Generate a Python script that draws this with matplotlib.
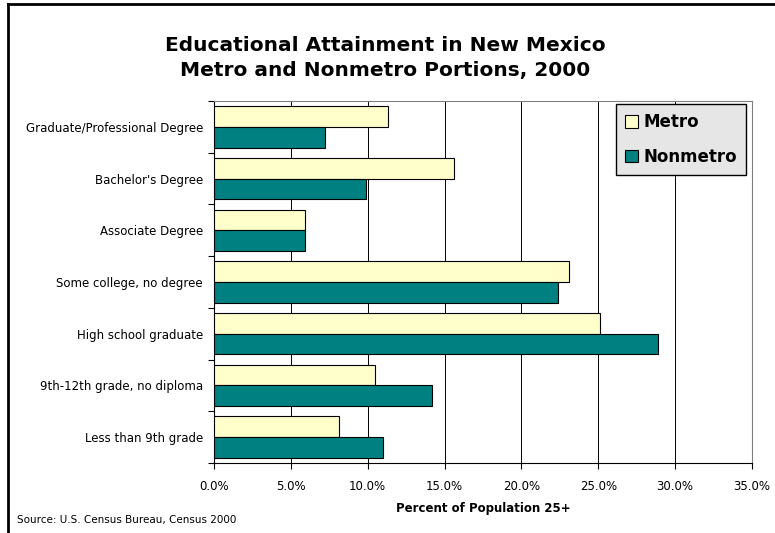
import matplotlib.pyplot as plt
import numpy as np
from matplotlib.lines import Line2D
from matplotlib.ticker import FuncFormatter

categories = ["Graduate/Professional Degree", "Bachelor's Degree", "Associate Degree",
              "Some college, no degree", "High school graduate",
              "9th-12th grade, no diploma", "Less than 9th grade"]
metro = [11.3, 15.6, 5.9, 23.1, 25.1, 10.5, 8.1]
nonmetro = [7.2, 9.9, 5.9, 22.4, 28.9, 14.2, 11.0]

fig = plt.figure(figsize=(7.75, 5.33), dpi=100)
ax = fig.add_axes([214 / 775, 1 - 463 / 533, (752 - 214) / 775, (463 - 101) / 533])

y = np.arange(len(categories))
h = 0.4
ax.barh(y - h / 2, metro, height=h, color="#FFFFCC", edgecolor="black", linewidth=0.8,
        label="Metro", zorder=3)
ax.barh(y + h / 2, nonmetro, height=h, color="#008080", edgecolor="black", linewidth=0.8,
        label="Nonmetro", zorder=3)

ax.set_ylim(len(categories) - 0.5, -0.5)
ax.set_xlim(0, 35)
ax.set_xticks(np.arange(0, 36, 5))
ax.xaxis.set_major_formatter(FuncFormatter(lambda v, p: f"{v:.1f}%"))
ax.grid(axis="x", color="black", linewidth=0.7, zorder=0)

ax.set_yticks(np.arange(-0.5, len(categories), 1))
ax.set_yticklabels([])
ax.set_yticks(y, minor=True)
ax.set_yticklabels(categories, minor=True, fontsize=8.5)
ax.tick_params(axis="y", which="minor", length=0, pad=8)
ax.tick_params(axis="y", which="major", length=4, direction="out")
ax.tick_params(axis="x", length=4, labelsize=8.5, pad=8)

for s in ["top", "right"]:
    ax.spines[s].set_color("#808080")
for s in ["left", "bottom"]:
    ax.spines[s].set_color("black")

ax.set_xlabel("Percent of Population 25+", fontsize=8.5, fontweight="bold", labelpad=7)

leg = ax.legend(loc="upper right", bbox_to_anchor=((746 - 214) / 538, (463 - 104) / 362),
                prop={"weight": "bold", "size": 12}, frameon=True, fancybox=False,
                handlelength=0.8, handleheight=0.8, handletextpad=0.3,
                labelspacing=1.0, borderpad=0.55, borderaxespad=0)
leg.get_frame().set_facecolor("#E6E6E6")
leg.get_frame().set_edgecolor("black")
leg.get_frame().set_alpha(1)

fig.text(385 / 775, 1 - 58 / 533, "Educational Attainment in New Mexico\nMetro and Nonmetro Portions, 2000",
         ha="center", va="center", fontsize=14.5, fontweight="bold", linespacing=1.35)
fig.text(17 / 775, 1 - 520 / 533, "Source: U.S. Census Bureau, Census 2000", fontsize=7.5,
         va="center")

fig.add_artist(Line2D([8 / 775, 8 / 775], [0, 1 - 4 / 533], color="black", linewidth=2,
                      transform=fig.transFigure))
fig.add_artist(Line2D([8 / 775, 1], [1 - 4 / 533, 1 - 4 / 533], color="black", linewidth=2,
                      transform=fig.transFigure))

fig.savefig("out.png", dpi=100)
